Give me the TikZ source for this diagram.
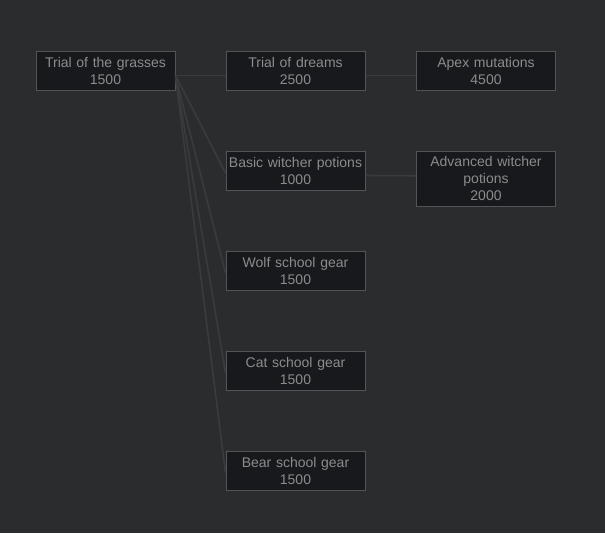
\documentclass[tikz,border=0pt]{standalone}
\usepackage{fontspec}
\setmainfont{Liberation Sans}
\definecolor{bgc}{HTML}{2B2C2E}
\definecolor{boxfill}{HTML}{17191C}
\definecolor{boxline}{HTML}{525456}
\definecolor{txt}{HTML}{8C8C8C}
\definecolor{edgec}{HTML}{3A3B3D}
\tikzset{
  skill/.style={draw=boxline, fill=boxfill, line width=1pt, text=txt,
    minimum width=139pt, minimum height=39pt, inner sep=0pt,
    text width=139pt, align=center,
    font=\fontsize{14}{17}\selectfont},
  link/.style={draw=edgec, line width=1.6pt}
}
\begin{document}
\begin{tikzpicture}[x=1pt,y=-1pt]
\fill[bgc] (0,0) rectangle (605,533);
\useasboundingbox (0,0) rectangle (605,533);
\node[skill] (grass) at (105.5,70.5) {Trial of the grasses\\1500};
\node[skill] (dreams) at (295.5,70.5) {Trial of dreams\\2500};
\node[skill] (apex) at (486,70.5) {Apex mutations\\4500};
\node[skill] (basic) at (295.5,170.5) {Basic witcher potions\\1000};
\node[skill, minimum height=55.5pt] (adv) at (486,178.75) {Advanced witcher\\potions\\2000};
\node[skill] (wolf) at (295.5,270.5) {Wolf school gear\\1500};
\node[skill] (cat) at (295.5,370.5) {Cat school gear\\1500};
\node[skill] (bear) at (295.5,470.5) {Bear school gear\\1500};
\draw[link] ([yshift=-5pt]grass.east) -- ([yshift=-5pt]dreams.west);
\draw[link] ([yshift=-5pt]dreams.east) -- ([yshift=-5pt]apex.west);
\draw[link] ([yshift=-5pt]basic.east) -- ([yshift=3pt]adv.west);
\draw[link] ([yshift=-5pt]grass.east) -- ([yshift=-2.5pt]basic.west);
\draw[link] ([yshift=-5pt]grass.east) -- ([yshift=-2.5pt]wolf.west);
\draw[link] ([yshift=-5pt]grass.east) -- ([yshift=-2.5pt]cat.west);
\draw[link] ([yshift=-5pt]grass.east) -- ([yshift=-2.5pt]bear.west);
\end{tikzpicture}
\end{document}
